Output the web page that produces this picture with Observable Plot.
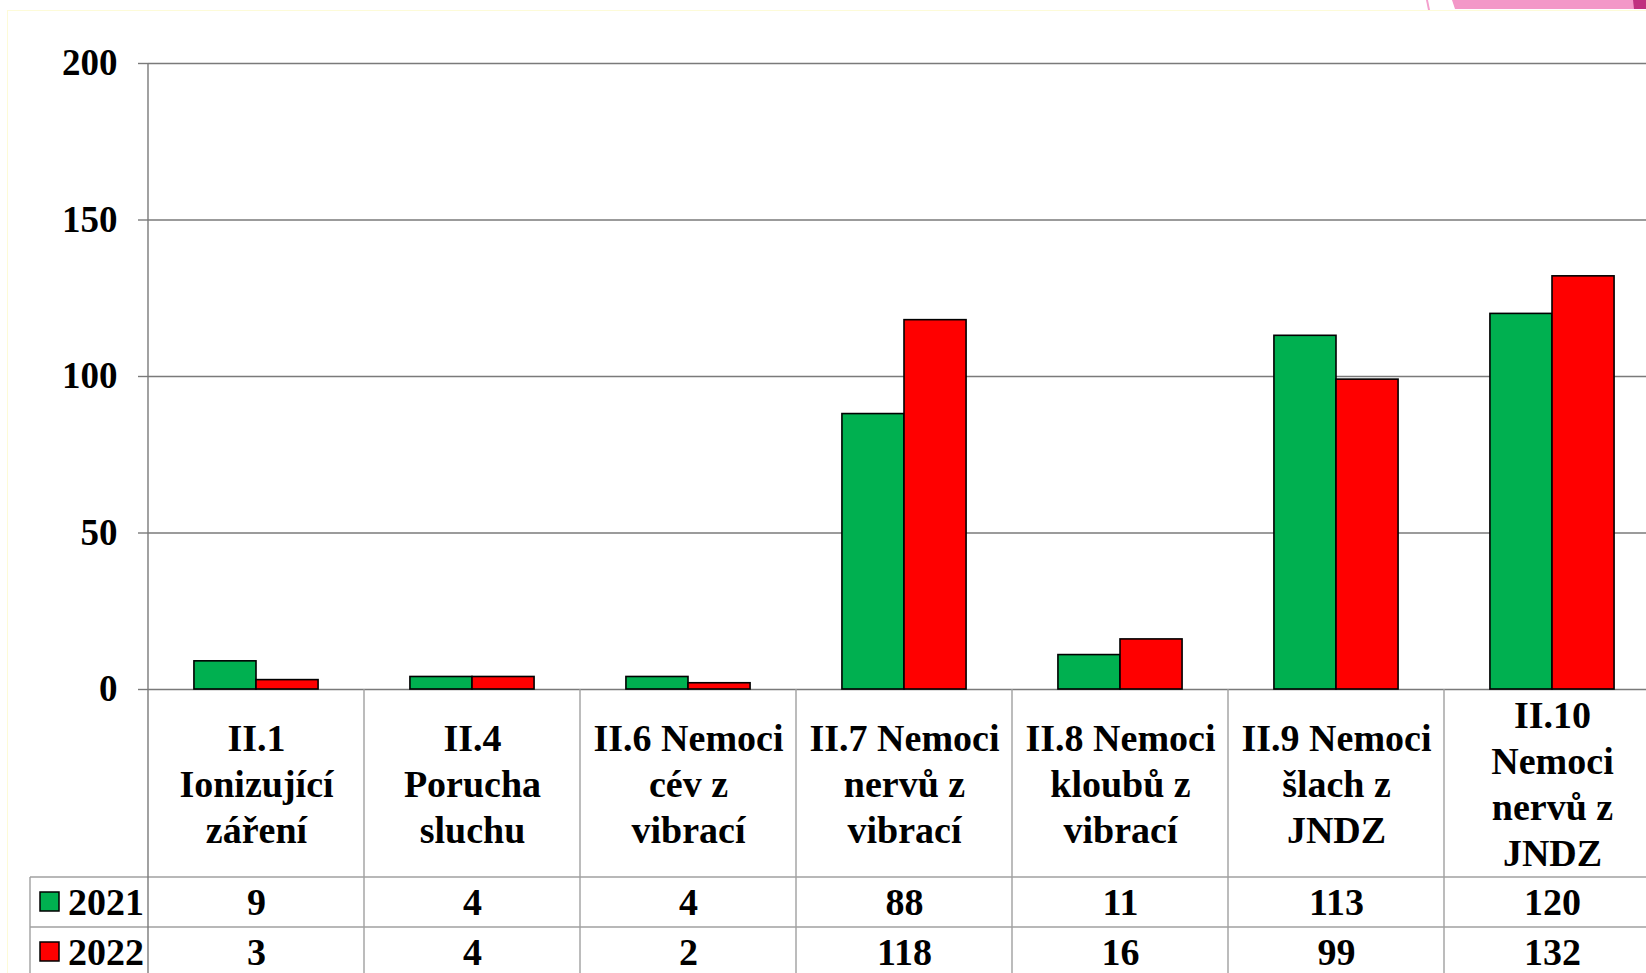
<!DOCTYPE html>
<html>
<head>
<meta charset="utf-8">
<script src="https://cdn.jsdelivr.net/npm/d3@7"></script>
<script src="https://cdn.jsdelivr.net/npm/@observablehq/plot@0.6"></script>
<style>
  html, body { margin: 0; padding: 0; background: #fff; overflow: hidden; width: 1646px; height: 973px; }
  #chart { position: absolute; left: 0; top: 0; width: 1660px; height: 973px; }
  #frame { position: absolute; left: 7px; top: 10px; right: 0; bottom: 0; border-top: 1px solid #fdfbd8; border-left: 1px solid #fdfbd8; }
  #deco { position: absolute; right: 0; top: 0; }
</style>
</head>
<body>
<div id="frame"></div>
<svg id="deco" width="230" height="12" viewBox="0 0 230 12">
  <polygon points="10,0 12,0 14,10 12,10" fill="#f4a0cd"/>
  <polygon points="36,0 230,0 230,9 39,9" fill="#f397c8"/>
  <polygon points="217,0 230,0 230,9 218,9" fill="#c0307f"/>
</svg>
<div id="chart"></div>
<script>
// ---- data ----
const categories = [
  "II.1 Ionizující záření",
  "II.4 Porucha sluchu",
  "II.6 Nemoci cév z vibrací",
  "II.7 Nemoci nervů z vibrací",
  "II.8 Nemoci kloubů z vibrací",
  "II.9 Nemoci šlach z JNDZ",
  "II.10 Nemoci nervů z JNDZ"
];
const categoryLabels = [
  "II.1\nIonizující\nzáření",
  "II.4\nPorucha\nsluchu",
  "II.6 Nemoci\ncév z\nvibrací",
  "II.7 Nemoci\nnervů z\nvibrací",
  "II.8 Nemoci\nkloubů z\nvibrací",
  "II.9 Nemoci\nšlach z\nJNDZ",
  "II.10\nNemoci\nnervů z\nJNDZ"
];
const years = ["2021", "2022"];
const values2021 = [9, 4, 4, 88, 11, 113, 120];
const values2022 = [3, 4, 2, 118, 16, 99, 132];
const yTicks = [0, 50, 100, 150, 200];
const yearColors = ["#00B050", "#FF0000"];

const rows = categories.flatMap((c, i) => [
  {category: c, year: years[0], value: values2021[i]},
  {category: c, year: years[1], value: values2022[i]}
]);
const rows2021 = rows.filter(d => d.year === years[0]);
const rows2022 = rows.filter(d => d.year === years[1]);

const font = "'Liberation Serif', 'Times New Roman', serif";
const FS = 38;

const plot = Plot.plot({
  width: 1660,
  height: 973,
  marginTop: 63,
  marginBottom: 284,
  marginLeft: 148,
  marginRight: 0,
  style: {fontFamily: font, fontWeight: "bold", fontSize: FS + "px", color: "#000", background: "transparent", overflow: "visible"},
  fx: {domain: categories, padding: 0, round: false, axis: null},
  x: {domain: years, paddingInner: 0, paddingOuter: 0.74, round: false, axis: null},
  y: {domain: [0, 200], axis: null},
  color: {domain: years, range: yearColors},
  marks: [
    Plot.ruleY(yTicks, {stroke: "#7a7a7a", strokeWidth: 1.4}),
    Plot.axisY({ticks: yTicks, tickSize: 10, tickPadding: 21, stroke: "#7a7a7a", strokeWidth: 1.4, fontSize: 37, fontWeight: "bold", label: null, tickFormat: d => String(d)}),
    Plot.barY(rows, {fx: "category", x: "year", y: "value", fill: "year", stroke: "#000", strokeWidth: 1.6}),
    Plot.text(categories, {fx: categories, text: categoryLabels, frameAnchor: "bottom", dy: 93, lineAnchor: "middle", lineHeight: 1.21, fontSize: FS, fontWeight: "bold", fill: "#000"}),
    Plot.text(rows2021, {fx: "category", text: d => String(d.value), frameAnchor: "bottom", dy: 213, lineAnchor: "middle", fontSize: FS, fontWeight: "bold", fill: "#000"}),
    Plot.text(rows2022, {fx: "category", text: d => String(d.value), frameAnchor: "bottom", dy: 263, lineAnchor: "middle", fontSize: FS, fontWeight: "bold", fill: "#000"})
  ]
});
plot.style.maxWidth = "none";
document.getElementById("chart").appendChild(plot);

// ---- data table grid & legend keys, positioned through Plot's scales ----
const svg = d3.select(plot);
const fx = plot.scale("fx");
const y = plot.scale("y");
const color = plot.scale("color");
const zeroY = y.apply(0);
const topY = y.apply(200);
const left = fx.apply(categories[0]);
const right = fx.apply(categories[categories.length - 1]) + fx.bandwidth;
const bottom = 973;
const row1Top = zeroY + 188, row2Top = zeroY + 238;
const legendLeft = 30;
const g = svg.append("g").attr("stroke", "#a0a0a0").attr("stroke-width", 1.4);
// axis line
svg.append("line").attr("x1", left).attr("x2", left).attr("y1", topY).attr("y2", bottom)
  .attr("stroke", "#7a7a7a").attr("stroke-width", 1.4);
// column separators
categories.slice(1).forEach(c => {
  const x = fx.apply(c);
  g.append("line").attr("x1", x).attr("x2", x).attr("y1", zeroY).attr("y2", bottom);
});
g.append("line").attr("x1", right).attr("x2", right).attr("y1", zeroY).attr("y2", bottom);
// row lines
[row1Top, row2Top].forEach(yy => {
  g.append("line").attr("x1", legendLeft).attr("x2", right).attr("y1", yy).attr("y2", yy);
});
g.append("line").attr("x1", legendLeft).attr("x2", legendLeft).attr("y1", row1Top).attr("y2", bottom);
// legend keys
[row1Top, row2Top].forEach((top, i) => {
  const cy = top + 25;
  svg.append("rect").attr("x", 40).attr("y", cy - 10).attr("width", 19).attr("height", 19)
    .attr("fill", color.apply(years[i])).attr("stroke", "#000").attr("stroke-width", 1.5);
  svg.append("text").attr("x", 68).attr("y", cy).attr("dy", "0.34em")
    .attr("text-anchor", "start")
    .attr("font-size", FS).attr("font-weight", "bold").attr("font-family", font)
    .attr("fill", "#000").text(years[i]);
});
</script>
</body>
</html>
